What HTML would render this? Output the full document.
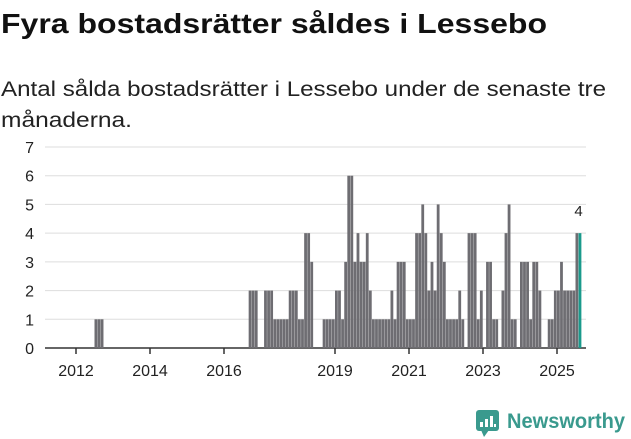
<!DOCTYPE html>
<html><head><meta charset="utf-8"><style>
html,body{margin:0;padding:0;background:#fff;width:631px;height:439px;overflow:hidden}
svg{display:block;font-family:"Liberation Sans",sans-serif}
</style></head><body>
<svg id="chart" width="631" height="439" viewBox="0 0 631 439">
<text x="1" y="33" font-size="28" font-weight="bold" fill="#111" textLength="546" lengthAdjust="spacingAndGlyphs">Fyra bostadsrätter såldes i Lessebo</text>
<text x="1" y="96" font-size="21" fill="#222" textLength="605" lengthAdjust="spacingAndGlyphs">Antal sålda bostadsrätter i Lessebo under de senaste tre</text>
<text x="1" y="127" font-size="21" fill="#222" textLength="131" lengthAdjust="spacingAndGlyphs">månaderna.</text>
<g id="grid"></g><g id="bars"></g><g id="axis"></g>
<g>
<rect x="476" y="410" width="23" height="21" rx="3" fill="#3a9a8e"/>
<polygon points="481,430 489,430 484,437" fill="#3a9a8e"/>
<rect x="480" y="422" width="3" height="5" fill="#fff"/><rect x="485" y="419" width="3" height="8" fill="#fff"/><rect x="490" y="416" width="3" height="11" fill="#fff"/><rect x="494" y="424" width="2" height="3" fill="#fff"/>
<text x="507" y="428" font-size="21" font-weight="bold" fill="#3a9a8e" textLength="118" lengthAdjust="spacingAndGlyphs">Newsworthy</text>
</g>
</svg>
<script>
const values=[0,0,0,0,0,0,1,1,1,0,0,0,
0,0,0,0,0,0,0,0,0,0,0,0, 0,0,0,0,0,0,0,0,0,0,0,0, 0,0,0,0,0,0,0,0,0,0,0,0, 0,0,0,0,0,0,0,0,2,2,2,0,
0,2,2,2,1,1,1,1,1,2,2,2, 1,1,4,4,3,0,0,0,1,1,1,1, 2,2,1,3,6,6,3,4,3,3,4,2,
1,1,1,1,1,1,2,1,3,3,3,1, 1,1,4,4,5,4,2,3,2,5,4,3, 1,1,1,1,2,1,0,4,4,4,1,2,
0,3,3,1,1,0,2,4,5,1,1,0, 3,3,3,1,3,3,2,0,0,1,1,2, 2,3,2,2,2,2,4,4];
const yTicks=[0,1,2,3,4,5,6,7];
const xTickYears=[2012,2014,2016,2019,2021,2023,2025];
const startYear=2012;
const NS="http://www.w3.org/2000/svg";
const x0=76,monthW=37/12,y0=348,unit=(348-147)/7,left=45,right=586;
const xs=m=>x0+m*monthW, ys=v=>y0-v*unit;
const grid=document.getElementById('grid'),bars=document.getElementById('bars'),axis=document.getElementById('axis');
function mk(tag,attrs,parent){const e=document.createElementNS(NS,tag);for(const k in attrs)e.setAttribute(k,attrs[k]);parent.appendChild(e);return e;}
yTicks.forEach(t=>{
 const l=mk('line',{x1:left,x2:right,y1:ys(t),y2:ys(t),stroke:t===0?'#333':'#ddd','stroke-width':t===0?1.5:1},grid);
 
 
 const tx=mk('text',{x:34,y:ys(t)+6,'font-size':16,fill:'#222','text-anchor':'end'},axis);
 tx.textContent=t;
 
 
});
values.forEach((v,i)=>{
 if(!v)return;
 const last=i===values.length-1;
 const r=mk('rect',{x:xs(i),y:ys(v),width:2.8,height:v*unit,fill:last?'#1a9a8c':'#6e6d72'},bars);
 
 
});
const lv=values[values.length-1];
const lab=mk('text',{x:xs(values.length-1),y:ys(lv)-17,'font-size':15,fill:'#222','text-anchor':'middle'},axis);
lab.textContent=lv;


xTickYears.forEach(yr=>{
 const x=xs((yr-startYear)*12);
 const tk=mk('line',{x1:x,x2:x,y1:y0,y2:y0+6,stroke:'#333','stroke-width':1.5},axis);
 
 
 const tx=mk('text',{x:x,y:376,'font-size':16,fill:'#222','text-anchor':'middle'},axis);
 tx.textContent=yr;
 
 
});
</script>
</body></html>
